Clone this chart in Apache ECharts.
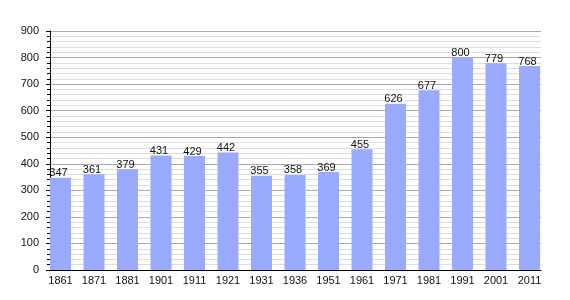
<!DOCTYPE html>
<html>
<head>
<meta charset="utf-8">
<script src="https://cdn.jsdelivr.net/npm/echarts@6/dist/echarts.min.js"></script>
<style>html,body{margin:0;padding:0;background:#fff}#c{width:570px;height:300px}</style>
</head>
<body>
<div id="c"></div>
<script>
const categories = ["1861","1871","1881","1901","1911","1921","1931","1936","1951","1961","1971","1981","1991","2001","2011"];
const population = [347,361,379,431,429,442,355,358,369,455,626,677,800,779,768];
const yTicks = [0,100,200,300,400,500,600,700,800,900];

const chart = echarts.init(document.getElementById('c'), null, {renderer:'canvas'});
const font = 'Liberation Sans, Arial, sans-serif';
chart.setOption({
  animation:false,
  backgroundColor:'#fff',
  grid:[
    {left:50, right:29, top:31, bottom:30},
    {left:43.75, width:502.5, top:31, bottom:30}
  ],
  xAxis:[
    {type:'category', gridIndex:0, data:categories, boundaryGap:true,
     axisLine:{lineStyle:{color:'#000', width:1}}, axisTick:{show:false}, axisLabel:{show:false}, splitLine:{show:false}},
    {type:'category', gridIndex:1, data:categories, boundaryGap:true,
     axisLine:{show:false}, axisTick:{show:false},
     axisLabel:{color:'#111', fontSize:11, fontFamily:font, margin:5, interval:0}}
  ],
  yAxis:[
    {type:'value', gridIndex:0, min:yTicks[0], max:yTicks[yTicks.length-1], interval:100,
     axisLine:{show:true, lineStyle:{color:'#000'}},
     axisTick:{show:true, length:4, lineStyle:{color:'#000'}},
     minorTick:{show:true, splitNumber:5, length:3, lineStyle:{color:'#000'}},
     axisLabel:{color:'#111', fontSize:11, fontFamily:font, margin:11},
     splitLine:{show:true, lineStyle:{color:'#aaa', width:1}},
     minorSplitLine:{show:true, lineStyle:{color:'#ddd', width:1}}},
    {type:'value', gridIndex:1, min:yTicks[0], max:yTicks[yTicks.length-1], show:false, splitLine:{show:false}}
  ],
  series:[{
    type:'bar', xAxisIndex:1, yAxisIndex:1, data:population, barWidth:21,
    itemStyle:{color:'#99aaff'},
    label:{show:true, position:'top', distance:-1, offset:[-2,0], color:'#111', fontSize:11, fontFamily:font}
  }]
});
</script>
</body>
</html>
